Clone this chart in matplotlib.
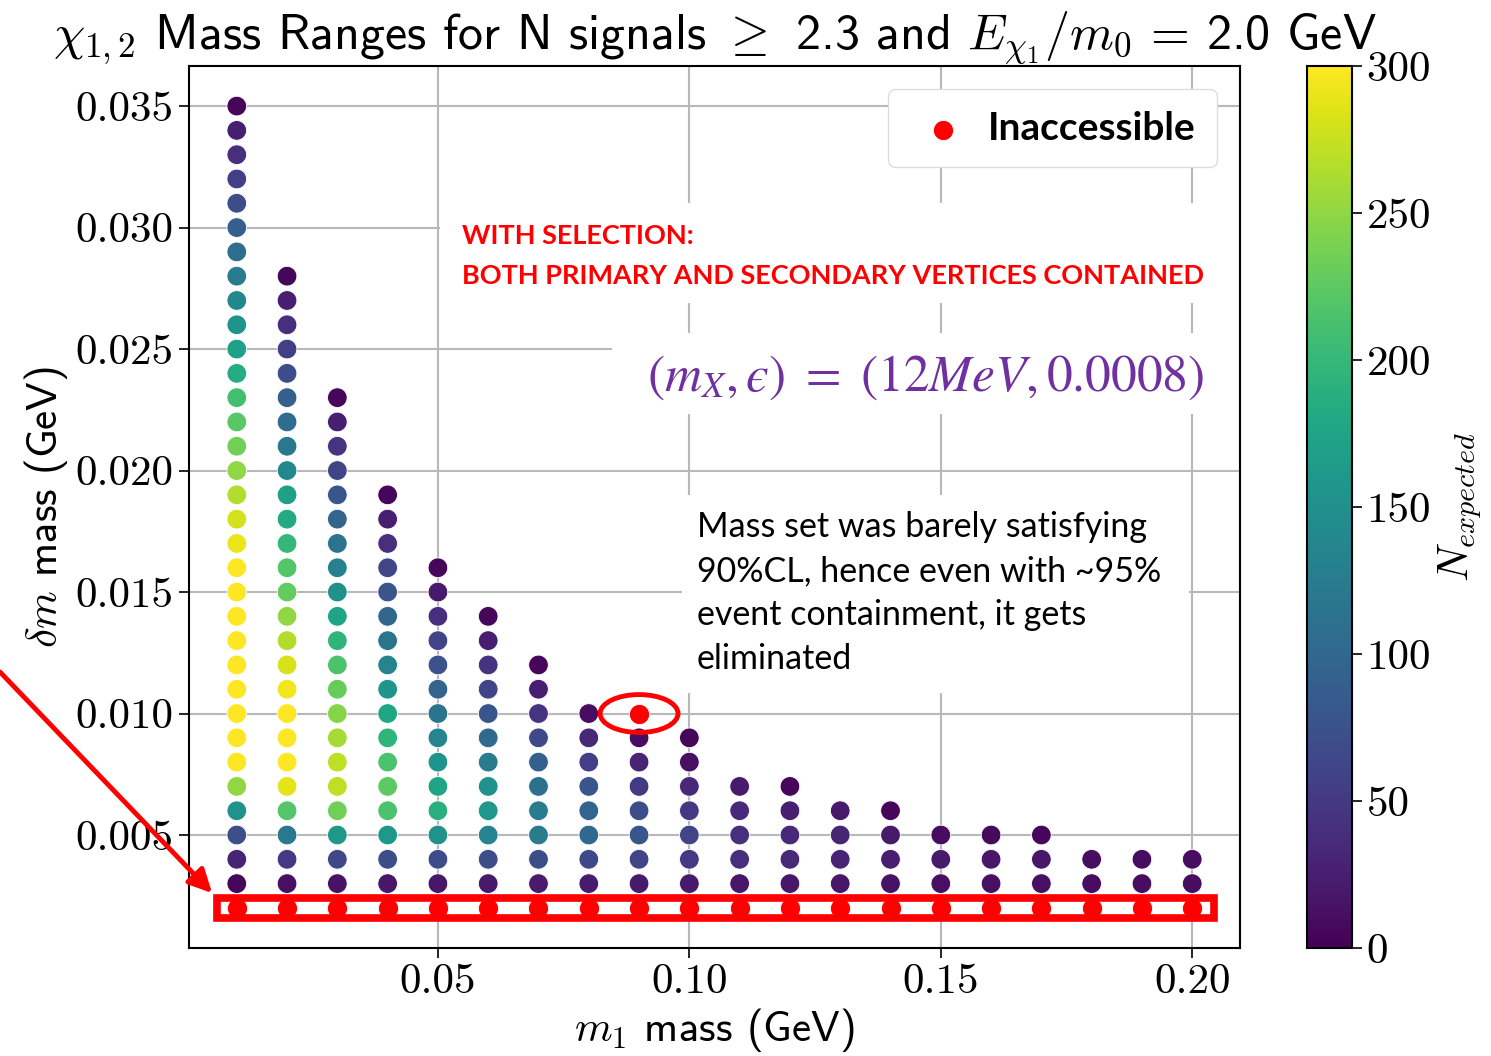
#!/usr/bin/env python3
# chi_{1,2} mass scan: N_expected per (m1, dm) point, inaccessible points in red

import numpy as np
import matplotlib
matplotlib.use('Agg')
import matplotlib.pyplot as plt
from matplotlib.patches import Rectangle, Ellipse

plt.rcParams.update({
    'mathtext.fontset': 'cm',
    'axes.formatter.use_mathtext': True,
})

# m1 columns (GeV)
m1 = [0.01, 0.02, 0.03, 0.04, 0.05, 0.06, 0.07, 0.08, 0.09, 0.10,
      0.11, 0.12, 0.13, 0.14, 0.15, 0.16, 0.17, 0.18, 0.19, 0.20]

# dm grid starts at 3 MeV, 1 MeV step; N_expected listed bottom -> top
dm_start = 0.003
dm_step = 0.001
n_expected = [
    [5, 30, 72, 150, 250, 300, 300, 300, 300, 300, 300, 300, 300, 300, 290, 280, 265,
     250, 235, 222, 210, 185, 170, 155, 140, 125, 108, 90, 70, 55, 40, 25, 5],
    [12, 50, 120, 220, 288, 300, 300, 300, 295, 282, 265, 250, 228, 220, 200, 182, 170,
     140, 120, 105, 90, 70, 55, 40, 25, 5],
    [15, 65, 160, 235, 270, 270, 260, 245, 230, 215, 195, 175, 150, 130, 115, 95, 80,
     60, 45, 25, 5],
    [18, 70, 160, 215, 225, 215, 195, 178, 155, 135, 115, 98, 78, 60, 40, 25, 5],
    [18, 70, 150, 190, 175, 155, 135, 115, 95, 75, 60, 40, 20, 5],
    [20, 70, 135, 160, 150, 125, 100, 80, 60, 45, 25, 5],
    [22, 70, 125, 125, 110, 90, 65, 45, 25, 5],
    [22, 65, 100, 95, 80, 55, 35, 10],
    [20, 60, 80, 70, 50, 30, 10],
    [20, 50, 60, 50, 35, 12, 5],
    [18, 40, 40, 35, 20],
    [18, 35, 35, 25, 5],
    [18, 30, 30, 20],
    [15, 25, 20, 5],
    [12, 20, 10],
    [12, 18, 8],
    [12, 18, 5],
    [10, 10],
    [10, 10],
    [10, 10],
]

# inaccessible points (red)
bad_m1 = m1 + [0.09]
bad_dm = [0.002] * len(m1) + [0.010]

xs, ys, cs = [], [], []
for x, col in zip(m1, n_expected):
    for i, n in enumerate(col):
        xs.append(x)
        ys.append(round(dm_start + i * dm_step, 4))
        cs.append(n)

W, H = 1491, 1056
fig = plt.figure(figsize=(W / 100, H / 100), dpi=100)
ax = fig.add_axes([189 / W, 1 - 948 / H, 1051 / W, 882 / H])
cax = fig.add_axes([1307 / W, 1 - 948 / H, 45 / W, 882 / H])

ax.set_axisbelow(True)
ax.grid(True, color='#b8b8b8', lw=1.5)

sc = ax.scatter(xs, ys, c=cs, cmap='viridis', vmin=0, vmax=300, s=200,
                edgecolors='white', linewidths=0.6, zorder=3)
ax.scatter(bad_m1, bad_dm, color='red', s=210, edgecolors='white',
           linewidths=0.6, zorder=3, label='Inaccessible')

ax.set_xlim(0.0005, 0.2095)
ax.set_ylim(0.00035, 0.03665)

tick_font = dict(family='cmr10', size=31)
ax.set_xticks([0.05, 0.10, 0.15, 0.20])
ax.set_xticklabels(['0.05', '0.10', '0.15', '0.20'], **tick_font)
yt = [0.005, 0.010, 0.015, 0.020, 0.025, 0.030, 0.035]
ax.set_yticks(yt)
ax.set_yticklabels([f'{v:.3f}' for v in yt], **tick_font)
ax.tick_params(length=7, width=1.2, pad=4)
for s in ax.spines.values():
    s.set_linewidth(1.5)

ax.set_xlabel(r'$m_1$ mass (GeV)', family='cmss10', size=31, labelpad=4)
ax.set_ylabel(r'$\delta m$ mass (GeV)', family='cmss10', size=31, labelpad=4)
ax.set_title(r'$\chi_{1,2}$ Mass Ranges for N signals $\geq$ 2.3 and '
             r'$E_{\chi_1}/m_0$ = 2.0 GeV', family='cmss10', size=36, pad=10)

cb = fig.colorbar(sc, cax=cax)
cb.set_ticks([0, 50, 100, 150, 200, 250, 300])
cb.ax.set_yticklabels(['0', '50', '100', '150', '200', '250', '300'], **tick_font)
cb.ax.tick_params(length=7, width=1.2)
cb.outline.set_linewidth(1.5)
cb.set_label(r'$N_{expected}$', size=31, labelpad=4)

leg = ax.legend(loc='upper right', borderaxespad=0.6, handletextpad=0.3,
                handlelength=1.7, prop=dict(family='Lato', weight='bold', size=28),
                borderpad=0.55, framealpha=1, edgecolor='#dddddd')

# white boxes behind the annotations
for x0, y0, w, h in [(0.239, 0.731, 0.761, 0.114),
                     (0.4025, 0.605, 0.5975, 0.092),
                     (0.469, 0.289, 0.4825, 0.225)]:
    ax.add_patch(Rectangle((x0, y0), w, h, transform=ax.transAxes,
                           facecolor='white', edgecolor='none', zorder=1))

ax.text(0.260, 0.807, 'WITH SELECTION:', transform=ax.transAxes, color='red',
        family='Lato', weight='bold', size=19.5, va='center', zorder=4)
ax.text(0.260, 0.762, 'BOTH PRIMARY AND SECONDARY VERTICES CONTAINED',
        transform=ax.transAxes, color='red', family='Lato', weight='bold',
        size=19.5, va='center', zorder=4)
ax.text(0.966, 0.647, '$(m_X,\u03f5)\\ =\\ (12MeV,0.0008)$', transform=ax.transAxes,
        color='#7030A0', size=37, math_fontfamily='stix', ha='right',
        va='center', zorder=4)
ax.text(0.483, 0.495, 'Mass set was barely satisfying\n90%CL, hence even with ~95%\n'
        'event containment, it gets\neliminated', transform=ax.transAxes,
        family='Lato', size=24.5, va='top', linespacing=1.45, zorder=4)

# red highlights
ax.add_patch(Rectangle((m1[0] - 0.0040, 0.00158), m1[-1] - m1[0] + 0.0083, 0.00084,
                       fill=False, edgecolor='red', lw=5.5, zorder=4, clip_on=False))
ax.add_patch(Ellipse((bad_m1[-1], bad_dm[-1]), 0.0155, 0.00156, fill=False,
                     edgecolor='red', lw=3.5, zorder=4))
ax.annotate('', xy=(0.0051, 0.00261), xycoords='data',
            xytext=(0.0, 1 - 672 / H), textcoords='figure fraction',
            arrowprops=dict(arrowstyle='-|>', color='red', lw=3.5,
                            mutation_scale=35, shrinkA=0, shrinkB=0),
            annotation_clip=False, zorder=5)

fig.savefig('out.png', dpi=100)
